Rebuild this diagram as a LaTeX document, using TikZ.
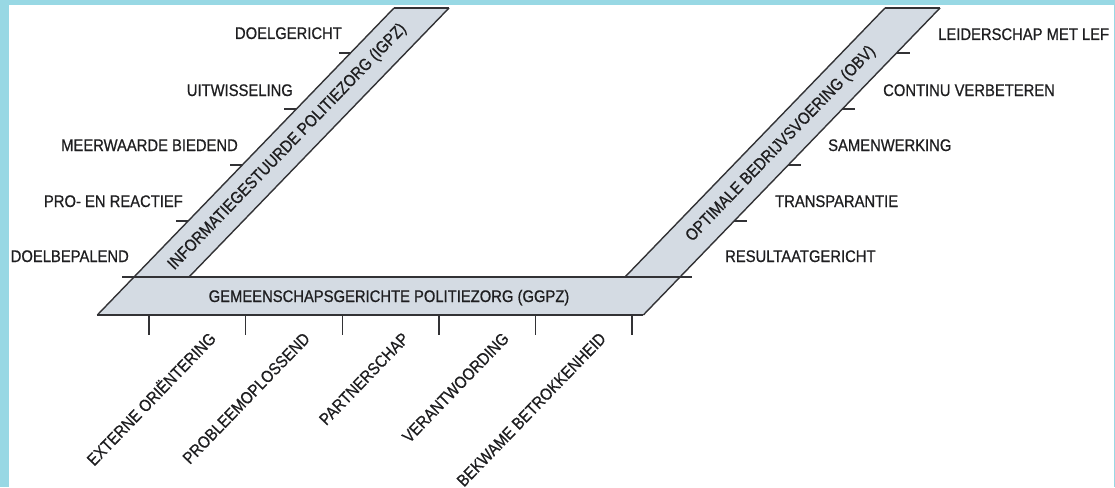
\documentclass[tikz,border=0pt]{standalone}
\usepackage{fontspec}
\setmainfont{Liberation Sans}[FakeStretch=0.88,FakeBold=0.7]
\usetikzlibrary{calc}
\definecolor{framecol}{RGB}{152,216,228}
\definecolor{bandcol}{RGB}{212,219,227}
\definecolor{edgecol}{RGB}{50,50,53}
\definecolor{inkcol}{RGB}{30,30,32}

\begin{document}
\begin{tikzpicture}[x=1pt,y=-1pt,
  lab/.style={text=inkcol,inner sep=0pt,font=\fontsize{16.8}{20}\selectfont},
  edgeline/.style={draw=edgecol,line width=1.4pt},
  topline/.style={draw=edgecol,line width=2pt},
  tickmark/.style={draw=edgecol,line width=1.4pt}]

\useasboundingbox (0,0) rectangle (1115,487);
\clip (0,0) rectangle (1115,487);

% corner points of the three bands
\coordinate (iTL) at (394,8);
\coordinate (iTR) at (449,8);
\coordinate (iBL) at (134,277);
\coordinate (iBR) at (189,277);
\coordinate (oTL) at (885,8);
\coordinate (oTR) at (940,8);
\coordinate (oBL) at (625,277);
\coordinate (oBR) at (680,277);
\coordinate (gBL) at (97.3,315);
\coordinate (gBR) at (643.3,315);
\coordinate (gTLtick) at (122,277);
\coordinate (gTRtick) at (692,277);

% band surfaces
\fill[bandcol] (gBL) -- (iBL) -- (iTL) -- (iTR) -- (iBR) -- (oBL) -- (oTL)
  -- (oTR) -- (oBR) -- (gBR) -- cycle;

% band outlines
\draw[edgeline] (gBL) -- (iTL);
\draw[edgeline] (iTR) -- (iBR);
\draw[edgeline] (oBL) -- (oTL);
\draw[edgeline] (oTR) -- (gBR);
\draw[edgeline] (gBL) -- (gBR);
\draw[edgeline] (gTLtick) -- (gTRtick);
\draw[topline] (iTL) -- (iTR);
\draw[topline] (oTL) -- (oTR);

% ticks along the slanted bands
\foreach \t in {0.1673,0.3755,0.5836,0.7918} {
  \draw[tickmark] ($(iTL)!\t!(iBL)$) -- ++(-12,0);
  \draw[tickmark] ($(oTR)!\t!(oBR)$) -- ++(13,0);
}
% ticks under the horizontal band
\foreach \i in {0,...,5} {
  \draw[tickmark] ({149+96.6*\i},315) -- ++(0,20);
}

% band titles
\node[lab,rotate=46] (igpz) at (287.5,147) {INFORMATIEGESTUURDE POLITIEZORG (IGPZ)};
\node[lab,rotate=46] (obv) at (781,144) {OPTIMALE BEDRIJVSVOERING (OBV)};
\node[lab,anchor=base] (ggpz) at (389,302) {GEMEENSCHAPSGERICHTE POLITIEZORG (GGPZ)};

% IGPZ characteristics
\node[lab,anchor=base east] (l1) at (342,39) {DOELGERICHT};
\node[lab,anchor=base east] (l2) at (293,96) {UITWISSELING};
\node[lab,anchor=base east] (l3) at (238,151) {MEERWAARDE BIEDEND};
\node[lab,anchor=base east] (l4) at (183,207) {PRO- EN REACTIEF};
\node[lab,anchor=base east] (l5) at (129,262) {DOELBEPALEND};

% OBV characteristics
\node[lab,anchor=base west] (r1) at (938,40) {LEIDERSCHAP MET LEF};
\node[lab,anchor=base west] (r2) at (883,96) {CONTINU VERBETEREN};
\node[lab,anchor=base west] (r3) at (828,151) {SAMENWERKING};
\node[lab,anchor=base west] (r4) at (775,207) {TRANSPARANTIE};
\node[lab,anchor=base west] (r5) at (725,262) {RESULTAATGERICHT};

% GGPZ characteristics
\node[lab,anchor=base east,rotate=46] (b1) at (217,339.5) {EXTERNE ORIËNTERING};
\node[lab,anchor=base east,rotate=46] (b2) at (311,339.5) {PROBLEEMOPLOSSEND};
\node[lab,anchor=base east,rotate=46] (b3) at (410,339.5) {PARTNERSCHAP};
\node[lab,anchor=base east,rotate=46] (b4) at (510,339.5) {VERANTWOORDING};
\node[lab,anchor=base east,rotate=46] (b5) at (607,339.5) {BEKWAME BETROKKENHEID};

% frame
\fill[framecol] (0,0) rectangle (9,487);
\fill[framecol] (0,0) rectangle (1115,5);
\fill[framecol] (1113.8,0) rectangle (1115,487);
\end{tikzpicture}
\end{document}
